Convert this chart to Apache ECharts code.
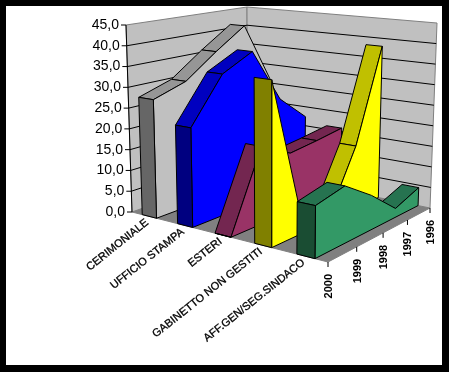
<!DOCTYPE html>
<html><head><meta charset="utf-8">
<style>html,body{margin:0;padding:0;background:#000}#c{width:449px;height:372px}</style>
<script src="https://cdn.jsdelivr.net/npm/echarts@6/dist/echarts.min.js"></script>
</head><body><div id="c"></div>
<script>
const categories = ['CERIMONIALE','UFFICIO STAMPA','ESTERI','GABINETTO NON GESTITI','AFF.GEN/SEG.SINDACO'];
const years = ['2000','1999','1998','1997','1996'];
const valueTicks = [0,5,10,15,20,25,30,35,40,45];
const cerimoniale = [28,30.6,36.4,41.7,25.6];
const ufficioStampa = [22.9,33.6,37.5,23.9,17.4];
const esteri = [0,18,14.1,14.9,15.9];
const gabinetto = [36.5,3.4,1.2,15.2,38];
const affGen = [11.2,12.7,7.9,2.1,4.4];
const seriesValues = [cerimoniale,ufficioStampa,esteri,gabinetto,affGen];
const palette = [['#c0c0c0','#969696','#666666'],['#0000ff','#0000c0','#000080'],['#993366','#732650','#4d1a33'],['#ffff00','#c0c000','#808000'],['#339966','#267350','#1a4d33']];

function quadMap(q){
  const [x0,y0]=q[0],[x1,y1]=q[1],[x2,y2]=q[2],[x3,y3]=q[3];
  const dx1=x1-x2,dx2=x3-x2,sx=x0-x1+x2-x3,dy1=y1-y2,dy2=y3-y2,sy=y0-y1+y2-y3;
  const den=dx1*dy2-dx2*dy1,g=(sx*dy2-dx2*sy)/den,h=(dx1*sy-sx*dy1)/den;
  const a=x1-x0+g*x1,b=x3-x0+h*x3,d=y1-y0+g*y1,e=y3-y0+h*y3;
  return (u,v)=>{const w=g*u+h*v+1;return [(a*u+b*v+x0)/w,(d*u+e*v+y0)/w];};
}
const floorMap = quadMap([[132,212],[328,262],[430,208],[247.5,171]]);
const ceilMap  = quadMap([[126,25],[331,47],[437,23],[247,7]]);
const vMax = 45, cMax = categories.length, SIDE=0.3, SIDE2=0.71;
function project(api,cat,depth,val){
  const p=api.coord([cat,val]);           // hidden axes: 0..100 px square
  const u=p[0]/100,h=(100-p[1])/100;
  const f=floorMap(u,depth),t=ceilMap(u,depth);
  return [f[0]+(t[0]-f[0])*h,f[1]+(t[1]-f[1])*h];
}
const poly=(pts,fill,stroke)=>({type:'polygon',shape:{points:pts},style:{fill:fill,stroke:stroke||'#000',lineWidth:1}});
const line=(a,b,col)=>({type:'line',shape:{x1:a[0],y1:a[1],x2:b[0],y2:b[1]},style:{stroke:col||'#000',lineWidth:1}});
const area=p=>{let s=0;for(let i=0;i<p.length;i++){const q=p[(i+1)%p.length];s+=p[i][0]*q[1]-q[0]*p[i][1];}return s;};

function renderWalls(params,api){
  const P=(c,d,v)=>project(api,c,d,v),ch=[];
  ch.push(poly([P(0,0,0),P(cMax,0,0),P(cMax,1,0),P(0,1,0)],'#808080','#808080'));
  ch.push(poly([P(0,0,0),P(0,1,0),P(0,1,vMax),P(0,0,vMax)],'#c0c0c0','#808080'));
  ch.push(poly([P(0,1,0),P(cMax,1,0),P(cMax,1,vMax),P(0,1,vMax)],'#c0c0c0','#808080'));
  valueTicks.forEach(v=>{
    if(v>0&&v<vMax){ch.push(line(P(0,0,v),P(0,1,v)));ch.push(line(P(0,1,v),P(cMax,1,v)));}
    const a=P(0,0,v);
    ch.push(line([a[0]-5,a[1]],a));
    ch.push({type:'text',x:a[0]-7,y:a[1],style:{text:v.toFixed(1).replace('.',','),font:'14px "Liberation Sans"',fill:'#000',align:'right',verticalAlign:'middle'}});
  });
  ch.push(line(P(0,0,0),P(0,0,vMax)));
  years.forEach((y,i)=>{
    const a=P(cMax,i/(years.length-1),0);
    ch.push(line(a,[a[0],a[1]+5]));
    ch.push({type:'text',x:a[0]+1,y:a[1]+12,rotation:Math.PI/2,style:{text:y,font:'bold 11px "Liberation Sans"',fill:'#000',align:'right',verticalAlign:'middle'}});
  });
  categories.forEach((c,i)=>{
    const a=P(i+0.5,0,0);
    ch.push({type:'text',x:a[0]-2,y:a[1]+5,rotation:38.5*Math.PI/180,style:{text:c,font:'11px "Liberation Sans"',fill:'#000',stroke:'#000',lineWidth:0.3,align:'right',verticalAlign:'middle'}});
  });
  return {type:'group',children:ch};
}
function renderRibbon(params,api){
  const i=api.value(0),vals=seriesValues[i],col=palette[i],ch=[];
  const u0=i+SIDE,u1=i+SIDE2,n=vals.length-1;
  const P=(c,k,v)=>project(api,c,k/n,v);
  for(let k=n-1;k>=0;k--){
    const q=[P(u0,k,vals[k]),P(u1,k,vals[k]),P(u1,k+1,vals[k+1]),P(u0,k+1,vals[k+1])];
    if(area(q)<0) ch.push(poly(q,col[1]));
  }
  const face=[P(u1,0,0)];
  vals.forEach((v,k)=>face.push(P(u1,k,v)));
  face.push(P(u1,n,0));
  ch.push(poly(face,col[0]));
  ch.push(poly([P(u0,0,0),P(u1,0,0),P(u1,0,vals[0]),P(u0,0,vals[0])],col[2]));
  return {type:'group',children:ch};
}
const chart=echarts.init(document.getElementById('c'),null,{renderer:'canvas'});
chart.setOption({
  animation:false,backgroundColor:'#000',
  graphic:{elements:[{type:'rect',z:-1,shape:{x:6,y:6,width:436,height:359},style:{fill:'#fff'}}]},
  grid:{left:0,top:0,width:100,height:100},
  xAxis:{type:'value',min:0,max:cMax,show:false},
  yAxis:{type:'value',min:0,max:vMax,show:false},
  series:[
    {type:'custom',silent:true,clip:false,renderItem:renderWalls,data:[[0,0]]}
  ].concat(categories.map((c,i)=>({type:'custom',name:c,silent:true,clip:false,renderItem:renderRibbon,data:[[i,0]],encode:{x:0,y:1}})))
});
</script></body></html>
